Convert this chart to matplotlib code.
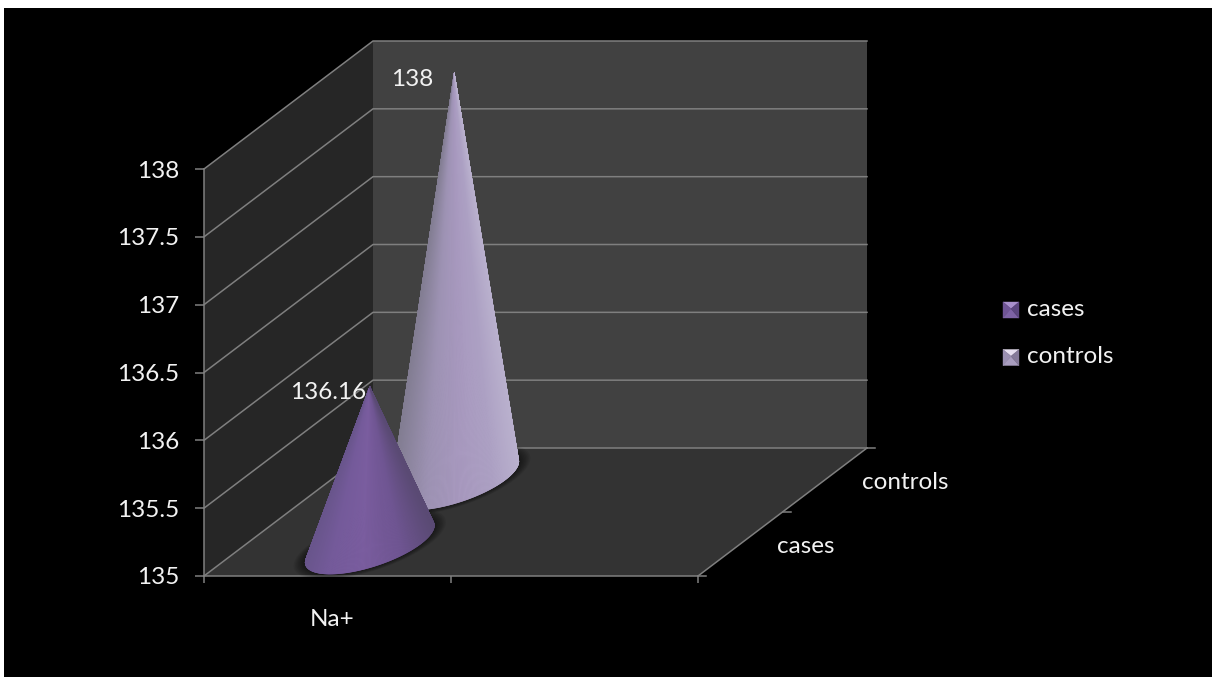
import numpy as np
import matplotlib
matplotlib.use("Agg")
import matplotlib.pyplot as plt
from matplotlib.collections import PolyCollection
from matplotlib.colors import LinearSegmentedColormap
from matplotlib.patches import Polygon, Rectangle

plt.rcParams["font.family"] = ["Lato", "DejaVu Sans"]

series = ["cases", "controls"]
values = [136.16, 138]
category = "Na+"
y_ticks = [135, 135.5, 136, 136.5, 137, 137.5, 138]

# shading around each cone, left silhouette to right silhouette
cone_shades = [
    [(0, "#69558c"), (0.18, "#745a9a"), (0.45, "#7a5d9f"), (0.75, "#6f5592"), (1, "#5a4a74")],
    [(0, "#827d92"), (0.28, "#9d92b3"), (0.55, "#a899bf"), (0.8, "#aca0c3"), (1, "#b9b0cd")],
]
swatch_shades = [
    ["#a88fcc", "#6f5496", "#7d62a5", "#5c4680"],
    ["#e6dff0", "#9a8fb2", "#a99dbf", "#857a9a"],
]

W, H = 1212, 677
LINE = "#7f7f7f"
TEXT = "#f2f2f2"
FONT = 17.5

# depth axis runs from the front plane to the back wall
DEPTH_X = 169 / 247
DEPTH_V = 128 / 135.67
RADIUS_X = 0.206
RADIUS_D = 0.235
CONE_X = 0.5


def project(x, v, d):
    return x + d * DEPTH_X, v + d * DEPTH_V


def base_point(x, d, t, scale=1.0):
    px = x + scale * RADIUS_X * np.cos(t)
    pd = d + scale * RADIUS_D * np.sin(t)
    return project(px, 135, pd)


def draw_shadow(ax, d):
    t = np.linspace(0, 2 * np.pi, 90)
    for scale in np.linspace(1.18, 1.0, 9):
        xs, vs = base_point(CONE_X, d, t, scale)
        ax.add_patch(Polygon(np.column_stack([xs, vs]), fc="black", ec="none",
                             alpha=0.07, zorder=3, clip_on=False))


def draw_cone(ax, d, value, shades, z):
    tip = project(CONE_X, value, d)
    t = np.linspace(0, 2 * np.pi, 721)
    xs, vs = base_point(CONE_X, d, t)
    # work in pixels so the silhouette tangents are right
    pts = ax.transData.transform(np.column_stack([xs, vs]))
    tip_px = ax.transData.transform(tip)
    grad = np.gradient(pts, axis=0)
    cross = (pts[:, 0] - tip_px[0]) * grad[:, 1] - (pts[:, 1] - tip_px[1]) * grad[:, 0]
    front = np.where(np.sign(cross) == np.sign(cross[np.argmin(pts[:, 1])]))[0]
    # front arc goes through the lowest point of the ellipse, sort it by pixel x
    front = front[np.argsort(pts[front, 0])]
    cmap = LinearSegmentedColormap.from_list("shade", shades)
    left, right = pts[front[0], 0], pts[front[-1], 0]
    faces = []
    colors = []
    for i, j in zip(front[:-1], front[1:]):
        faces.append([tip, (xs[i], vs[i]), (xs[j], vs[j])])
        colors.append(cmap((pts[i, 0] - left) / (right - left)))
    ax.add_collection(PolyCollection(faces, facecolors=colors, edgecolors=colors,
                                     linewidths=0.4, zorder=z, clip_on=False))
    return tip


fig = plt.figure(figsize=(W / 100, H / 100), dpi=100, facecolor="black")

# pixel layer for the page strip and legend
page = fig.add_axes([0, 0, 1, 1], zorder=5)
page.set_xlim(0, W)
page.set_ylim(H, 0)
page.axis("off")
page.add_patch(Rectangle((0, 0), W, 8, fc="white", ec="none"))
page.add_patch(Rectangle((0, 0), 4, H, fc="white", ec="none"))

ax = fig.add_axes([204 / W, 1 - 576 / H, 494 / W, 407 / H], zorder=2)
ax.patch.set_visible(False)
ax.set_xlim(0, 2)
ax.set_ylim(135, 138)

# walls and floor
for corners, color in [
    ([(0, 135, 0), (0, 138, 0), (0, 138, 1), (0, 135, 1)], "#262626"),
    ([(0, 135, 1), (0, 138, 1), (2, 138, 1), (2, 135, 1)], "#414141"),
    ([(0, 135, 0), (2, 135, 0), (2, 135, 1), (0, 135, 1)], "#333333"),
]:
    ax.add_patch(Polygon([project(*c) for c in corners], fc=color, ec="none",
                         zorder=0, clip_on=False))

for v in y_ticks:
    pts = [project(0, v, 0), project(0, v, 1), project(2, v, 1)]
    ax.plot(*zip(*pts), color=LINE, lw=1.1, zorder=1, clip_on=False)
ax.plot(*zip(project(2, 135, 0), project(2, 135, 1)), color=LINE, lw=1.1,
        zorder=1, clip_on=False)

# depth axis ticks
for d in [0, 0.5, 1]:
    start = project(2, 135, d)
    ax.plot([start[0], start[0] + 0.034], [start[1], start[1]], color=LINE, lw=1.1,
            zorder=1, clip_on=False)

depths = [(i + 0.5) / len(series) for i in range(len(series))]

# back row first so the front cone sits on top
for i in reversed(range(len(series))):
    draw_shadow(ax, depths[i])
    tip = draw_cone(ax, depths[i], values[i], cone_shades[i], 4 + (len(series) - i))
    ax.annotate(f"{values[i]:g}", xy=tip, xytext=(-42, -6), textcoords="offset pixels",
                ha="center", va="center", color=TEXT, fontsize=FONT, zorder=8,
                annotation_clip=False)

# regular axes furniture
for side in ["top", "right"]:
    ax.spines[side].set_visible(False)
for side in ["left", "bottom"]:
    ax.spines[side].set_color(LINE)
    ax.spines[side].set_linewidth(1.1)
ax.set_yticks(y_ticks)
ax.set_yticklabels([f"{v:g}" for v in y_ticks])
ax.set_xticks([0, 1, 2])
ax.set_xticklabels([])
ax.tick_params(axis="y", direction="out", length=6.5, width=1.1, color=LINE,
               labelcolor=TEXT, labelsize=FONT, pad=11.5)
ax.tick_params(axis="x", direction="out", length=5, width=1.1, color=LINE)

ax.annotate(category, xy=(0.5, 135), xytext=(5, -43), textcoords="offset pixels",
            ha="center", va="center", color=TEXT, fontsize=FONT, annotation_clip=False)

for name, d in zip(series, depths):
    ax.annotate(name, xy=project(2, 135, d), xytext=(37, -2), textcoords="offset pixels",
                ha="left", va="center", color=TEXT, fontsize=FONT, annotation_clip=False)

# legend keys are small pyramids seen from above
for i, name in enumerate(series):
    x0, y0 = 1003, 302 + i * 47.5
    s = 16
    c = (x0 + s / 2, y0 + s * 0.42)
    a, b, e, f = (x0, y0), (x0 + s, y0), (x0 + s, y0 + s), (x0, y0 + s)
    for tri, color in zip([(a, b, c), (a, f, c), (f, e, c), (b, e, c)], swatch_shades[i]):
        page.add_patch(Polygon(tri, fc=color, ec=color, lw=0.3))
    page.text(x0 + 24, y0 + 7, name, ha="left", va="center", color=TEXT, fontsize=FONT)

fig.savefig("out.png", dpi=100)
